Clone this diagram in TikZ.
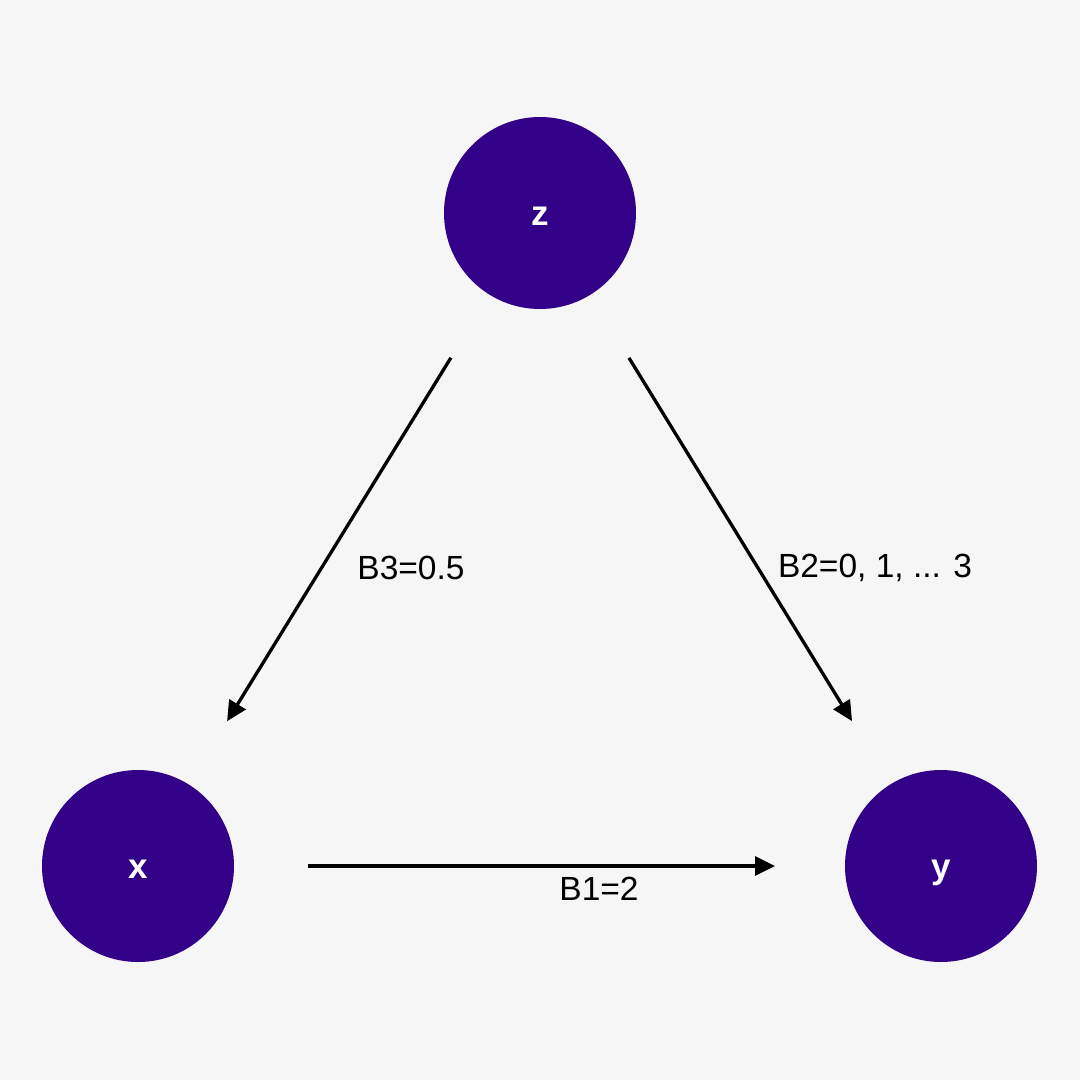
\documentclass[tikz,border=0pt]{standalone}
\usepackage{fontspec}
\setmainfont{Liberation Sans}
\usetikzlibrary{arrows.meta,calc}
\definecolor{bg}{HTML}{F6F6F6}
\definecolor{nodepurple}{HTML}{330088}
\begin{document}
\begin{tikzpicture}[x=1pt,y=-1pt,
  varnode/.style={circle,fill=nodepurple,minimum size=192pt,inner sep=0pt,text=white,text height=24pt,text depth=0pt,font=\fontsize{35}{40}\selectfont\bfseries},
  arr/.style={line width=3.3pt,-{Triangle[length=20pt,width=19pt]}},
  lbl/.style={font=\fontsize{33.5}{38}\selectfont,text=black}]
\fill[bg] (0,0) rectangle (1080,1080);
\useasboundingbox (0,0) rectangle (1080,1080);
\node[varnode] (z) at (540,213) {z};
\node[varnode] (x) at (138,866) {x};
\node[varnode] (y) at (941,866) {y};
\draw[arr] ($(z.center)!170pt!(x.center)$) -- ($(x.center)!170pt!(z.center)$);
\draw[arr] ($(z.center)!170pt!(y.center)$) -- ($(y.center)!170pt!(z.center)$);
\draw[arr] ($(x.center)!170pt!(y.center)$) -- ($(y.center)!166pt!(x.center)$);
\node[lbl] (l3) at (411,568) {B3=0.5};
\node[lbl] (l2) at (875,568) {B2=0, 1, ... 3};
\node[lbl] (l1) at (599,889) {B1=2};
\end{tikzpicture}
\end{document}
